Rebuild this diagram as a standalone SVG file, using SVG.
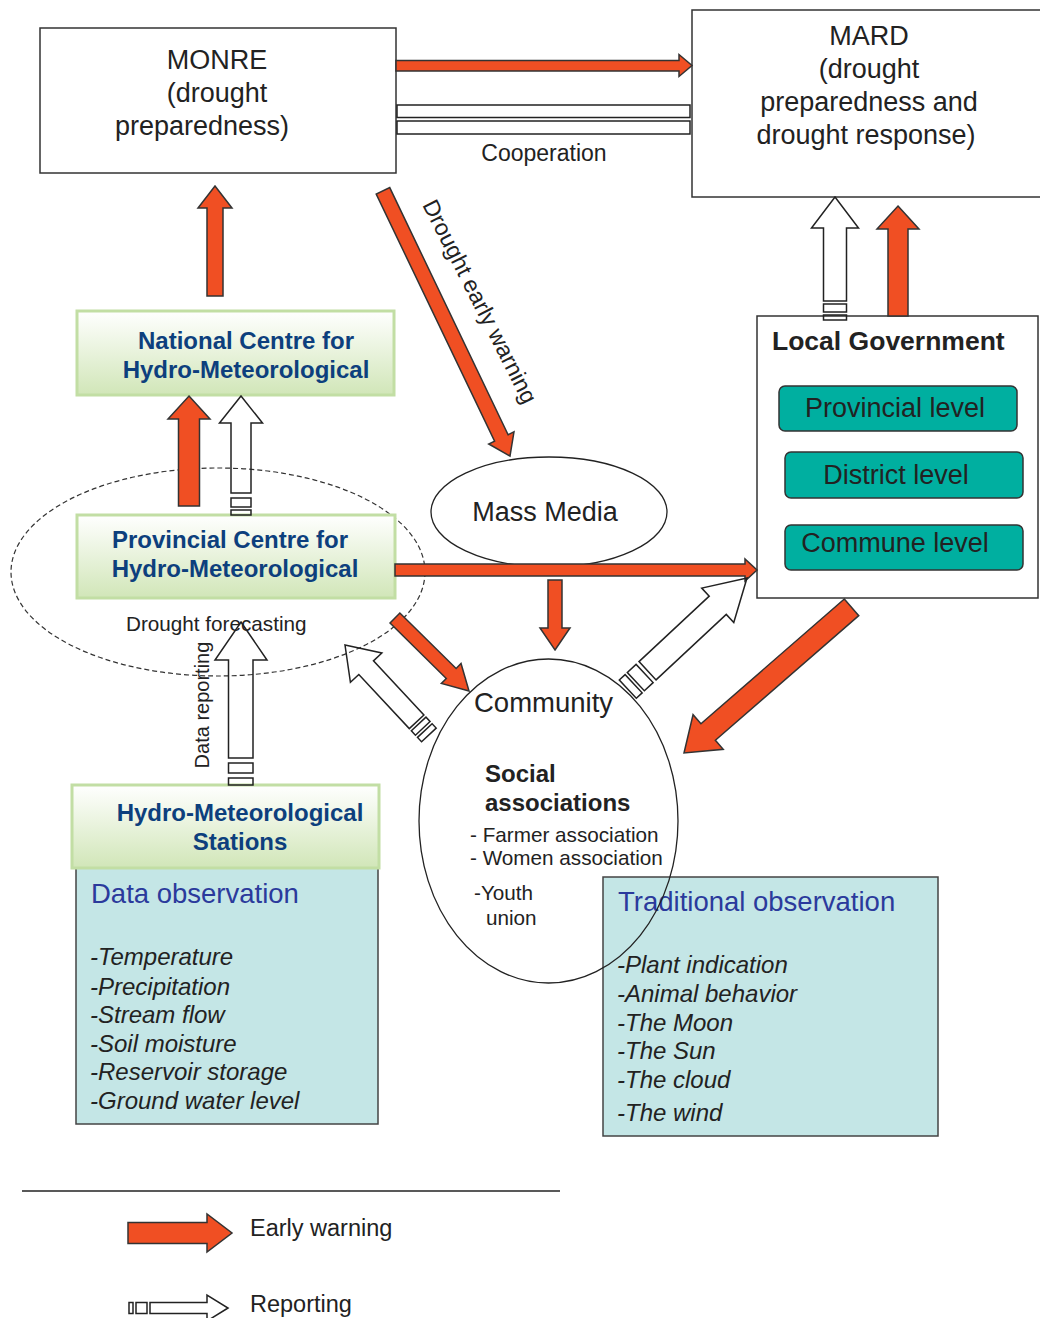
<svg xmlns="http://www.w3.org/2000/svg" width="1040" height="1318" viewBox="0 0 1040 1318">
<defs>
<linearGradient id="g" x1="0" y1="0" x2="0" y2="1">
<stop offset="0" stop-color="#ffffff"/>
<stop offset="1" stop-color="#d1e6b8"/>
</linearGradient>
<style>
text{font-family:"Liberation Sans",Arial,sans-serif;fill:#222}
.box{fill:#fff;stroke:#333;stroke-width:1.5}
.gbox{fill:url(#g);stroke:#c2dea4;stroke-width:3}
.gt{font-size:24px;font-weight:bold;fill:#0d3f7d;text-anchor:middle}
.obs{fill:#c4e6e6;stroke:#444;stroke-width:1.5}
.oh{font-size:27.5px;fill:#2b3a9c}
.oi{font-size:24px;font-style:italic}
.lvl{fill:#00afa0;stroke:#333;stroke-width:1.5}
.lt{font-size:27px;text-anchor:middle}
.big{font-size:27px}
.ew{fill:#f04f23;stroke:#333;stroke-width:1.5;stroke-linejoin:miter}
.rp{fill:none;stroke:#222;stroke-width:1.5}
.rpw{fill:#fff;stroke:#222;stroke-width:1.5}
.ell{fill:none;stroke:#222;stroke-width:1.3}
</style>
</defs>
<rect width="1040" height="1318" fill="#fff"/>

<g id="forecast-zone">
<ellipse cx="218" cy="572" rx="207" ry="104" fill="none" stroke="#333" stroke-width="1.2" stroke-dasharray="5,3"/>
</g>

<g id="monre">
<rect class="box" x="40" y="28" width="356" height="145"/>
<text class="big" x="217" y="69" text-anchor="middle">MONRE</text>
<text class="big" x="217" y="102" text-anchor="middle">(drought</text>
<text class="big" x="202" y="135" text-anchor="middle">preparedness)</text>
</g>

<g id="mard">
<rect class="box" x="692" y="10" width="360" height="187"/>
<text class="big" x="869" y="45" text-anchor="middle">MARD</text>
<text class="big" x="869" y="78" text-anchor="middle">(drought</text>
<text class="big" x="869" y="111" text-anchor="middle">preparedness and</text>
<text class="big" x="866" y="144" text-anchor="middle">drought response)</text>
</g>

<g id="national-centre">
<rect class="gbox" x="77" y="311" width="317" height="84"/>
<text class="gt" x="246" y="349">National Centre for</text>
<text class="gt" x="246" y="378">Hydro-Meteorological</text>
</g>

<g id="provincial-centre">
<rect class="gbox" x="77" y="515" width="318" height="83"/>
<text class="gt" x="230" y="548">Provincial Centre for</text>
<text class="gt" x="235" y="577">Hydro-Meteorological</text>
</g>

<g id="data-observation">
<rect class="obs" x="76" y="866" width="302" height="258"/>
<text class="oh" x="91" y="903">Data observation</text>
<text class="oi" x="90" y="965">-Temperature</text>
<text class="oi" x="90" y="995">-Precipitation</text>
<text class="oi" x="90" y="1023">-Stream flow</text>
<text class="oi" x="90" y="1052">-Soil moisture</text>
<text class="oi" x="90" y="1080">-Reservoir storage</text>
<text class="oi" x="90" y="1109">-Ground water level</text>
</g>

<g id="stations">
<rect class="gbox" x="72" y="785" width="307" height="83"/>
<text class="gt" x="240" y="821">Hydro-Meteorological</text>
<text class="gt" x="240" y="850">Stations</text>
</g>

<g id="mass-media">
<ellipse cx="549" cy="512" rx="118" ry="55" fill="#fff" stroke="#222" stroke-width="1.3"/>
<text class="big" x="545" y="521" text-anchor="middle">Mass Media</text>
</g>

<g id="local-government">
<rect class="box" x="757" y="316" width="281" height="282"/>
<text x="772" y="350" font-size="26.5" font-weight="bold">Local Government</text>
<rect class="lvl" x="779" y="386" width="238" height="45" rx="6"/>
<text class="lt" x="895" y="417">Provincial level</text>
<rect class="lvl" x="785" y="452" width="238" height="46" rx="6"/>
<text class="lt" x="896" y="484">District level</text>
<rect class="lvl" x="785" y="525" width="238" height="45" rx="6"/>
<text class="lt" x="895" y="552">Commune level</text>
</g>

<g id="traditional-observation">
<rect class="obs" x="603" y="877" width="335" height="259"/>
<text class="oh" x="618" y="911">Traditional observation</text>
<text class="oi" x="617" y="973">-Plant indication</text>
<text class="oi" x="617" y="1002">-Animal behavior</text>
<text class="oi" x="617" y="1031">-The Moon</text>
<text class="oi" x="617" y="1059">-The Sun</text>
<text class="oi" x="617" y="1088">-The cloud</text>
<text class="oi" x="617" y="1121">-The wind</text>
</g>

<g id="community">
<ellipse class="ell" cx="548.5" cy="821" rx="129.5" ry="162"/>
<text x="474" y="712" font-size="27.5">Community</text>
<text x="485" y="782" font-size="24" font-weight="bold">Social</text>
<text x="485" y="811" font-size="24" font-weight="bold">associations</text>
<text x="470" y="842" font-size="20.7">- Farmer association</text>
<text x="470" y="865" font-size="20.7">- Women association</text>
<text x="474" y="900" font-size="20.7">-Youth</text>
<text x="486" y="925" font-size="20.7">union</text>
</g>

<g id="connectors">
<polygon class="ew" points="396,60.5 679,60.5 679,54.5 692,65.5 679,76.5 679,71 396,71"/>
<rect class="rpw" x="397" y="105" width="293" height="12.5"/>
<rect class="rpw" x="397" y="121" width="293" height="13"/>
<polygon class="ew" points="215,186 232,208 223,208 223,296 207,296 207,208 198,208"/>
<polygon class="ew" points="189,396 210,419 199.5,419 199.5,506 178.5,506 178.5,419 168,419"/>
<g class="rp">
<polygon points="241,396 262.5,423 251,423 251,493 231,493 231,423 219.5,423"/>
<rect x="231" y="498" width="20" height="9"/>
<rect x="231" y="510" width="20" height="5"/>
</g>
<polygon class="ew" points="898,206 919,229 908,229 908,316 888,316 888,229 877,229"/>
<g class="rp">
<polygon points="835,197 858.5,228 846.5,228 846.5,301 823.5,301 823.5,228 811.5,228"/>
<rect x="823.5" y="304" width="23" height="8"/>
<rect x="823.5" y="315" width="23" height="5"/>
</g>
<polygon class="ew" transform="translate(510,456) rotate(154.4)" points="0,0 14,20 7.5,20 7.5,294 -7.5,294 -7.5,20 -14,20"/>
<polygon class="ew" points="395,564 745,564 745,559 757,570 745,581 745,576 395,576"/>
<polygon class="ew" points="555,650 570,628 562,628 562,580 548,580 548,628 540,628"/>
<polygon class="ew" transform="translate(469,691) rotate(134.6)" points="0,0 14,25 7,25 7,104 -7,104 -7,25 -14,25"/>
<polygon class="ew" transform="translate(684,753) rotate(-131)" points="0,0 23,32 11,32 11,222 -11,222 -11,32 -23,32"/>
<g class="rp" transform="translate(345,645) rotate(-43)">
<polygon points="0,0 21.5,31 10,31 10,105 -10,105 -10,31 -21.5,31"/>
<rect x="-10" y="108" width="20" height="6"/>
<rect x="-10" y="117" width="20" height="6"/>
</g>
<g class="rp" transform="translate(747,578) rotate(47)">
<polygon points="0,0 23.5,40 12.5,40 12.5,136 -12.5,136 -12.5,40 -23.5,40"/>
<rect x="-12.5" y="140" width="25" height="12"/>
<rect x="-12.5" y="155" width="25" height="8"/>
</g>
<g class="rp">
<polygon points="241,622 267,660 253,660 253,758 228.5,758 228.5,660 215,660"/>
<rect x="228.5" y="763" width="24.5" height="10"/>
<rect x="228.5" y="778" width="24.5" height="7"/>
</g>
</g>

<g id="labels">
<text x="544" y="161" font-size="23" text-anchor="middle">Cooperation</text>
<text x="473" y="305" font-size="23" text-anchor="middle" transform="rotate(63.1 473 305)">Drought early warning</text>
<text x="126" y="631" font-size="20.7">Drought forecasting</text>
<text x="209" y="705" font-size="20" text-anchor="middle" transform="rotate(-90 209 705)">Data reporting</text>
</g>

<g id="legend">
<line x1="22" y1="1191" x2="560" y2="1191" stroke="#222" stroke-width="1.5"/>
<polygon class="ew" points="128,1222.5 207,1222.5 207,1214 232,1233 207,1252 207,1243.5 128,1243.5"/>
<text x="250" y="1236" font-size="23.5">Early warning</text>
<g class="rp">
<polygon points="228,1308 207,1321 207,1313.5 150,1313.5 150,1302.5 207,1302.5 207,1295"/>
<rect x="129" y="1302.5" width="4" height="11"/>
<rect x="136" y="1302.5" width="11" height="11"/>
</g>
<text x="250" y="1312" font-size="23.5">Reporting</text>
</g>
</svg>
